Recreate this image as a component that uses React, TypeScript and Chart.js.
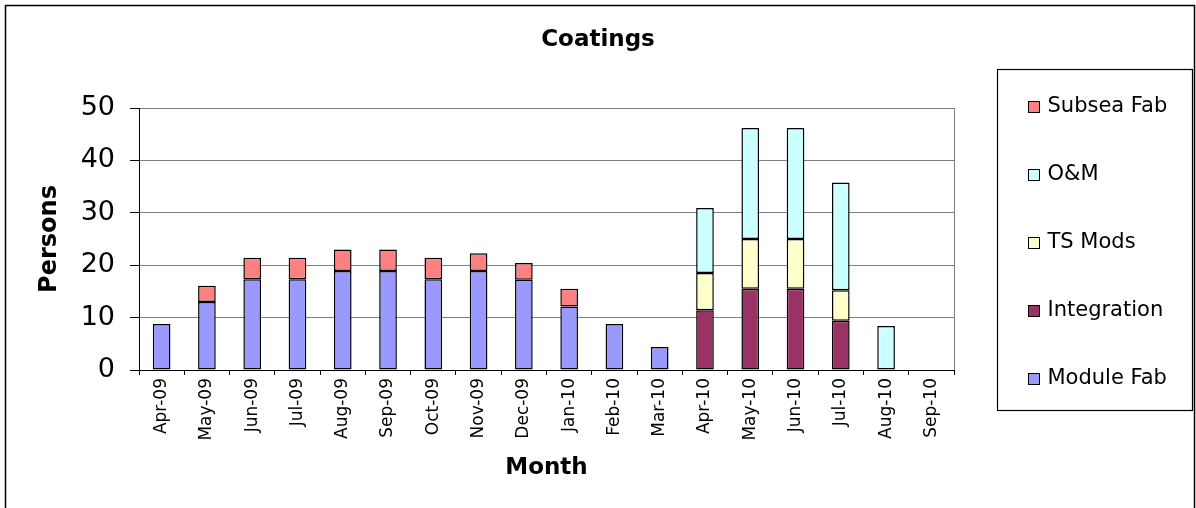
import { useEffect, useRef } from 'react';
import { Chart, registerables, layouts } from 'chart.js';

Chart.register(...registerables);

// Monthly head-count for the coatings crew, stacked by work package
const months = [
  'Apr-09', 'May-09', 'Jun-09', 'Jul-09', 'Aug-09', 'Sep-09',
  'Oct-09', 'Nov-09', 'Dec-09', 'Jan-10', 'Feb-10', 'Mar-10',
  'Apr-10', 'May-10', 'Jun-10', 'Jul-10', 'Aug-10', 'Sep-10',
];

const moduleFab = [8.8, 13, 17.3, 17.3, 18.9, 18.9, 17.3, 18.9, 17.2, 12.1, 8.8, 4.4, null, null, null, null, null, null];
const integration = [null, null, null, null, null, null, null, null, null, null, null, null, 11.4, 15.5, 15.5, 9.4, null, null];
const tsMods = [null, null, null, null, null, null, null, null, null, null, null, null, 7.1, 9.5, 9.5, 5.8, null, null];
const oAndM = [null, null, null, null, null, null, null, null, null, null, null, null, 12.4, 21.2, 21.2, 20.6, 8.4, null];
const subseaFab = [null, 3.1, 4.1, 4.1, 4.1, 4.1, 4.1, 3.4, 3.2, 3.4, null, null, null, null, null, null, null, null];

const seriesNames = ['Module Fab', 'Integration', 'TS Mods', 'O&M', 'Subsea Fab'];
const seriesValues = [moduleFab, integration, tsMods, oAndM, subseaFab];
const seriesColors = ['#9999FF', '#993366', '#FFFFCC', '#CCFFFF', '#FF8080'];

const yTicks = [0, 10, 20, 30, 40, 50];

const FONT = "'DejaVu Sans', sans-serif";

// Boxed legend on the right, reserved as its own layout box
const sideLegend = {
  id: 'sideLegend',
  start(chart: any) {
    const box: any = {
      position: 'right',
      weight: 1000,
      fullSize: false,
      options: {},
      left: 0, top: 0, right: 0, bottom: 0, width: 0, height: 0,
      isHorizontal() { return false; },
      getPadding() { return { top: 0, left: 0, right: 0, bottom: 0 }; },
      update(_maxWidth: number, maxHeight: number) {
        box.width = 242;
        box.height = maxHeight;
      },
      draw() {
        const ctx = chart.ctx;
        const area = chart.chartArea;
        const cy = (area.top + area.bottom) / 2;
        const x0 = Math.round(box.left + 43) + 0.5;
        const y0 = Math.round(cy - 170) + 0.5;
        ctx.save();
        ctx.strokeStyle = '#000';
        ctx.lineWidth = 1.2;
        ctx.strokeRect(x0, y0, 195, 341);
        const items = chart.data.datasets.map((d: any) => d).reverse();
        const n = items.length;
        ctx.font = `21px ${FONT}`;
        ctx.textBaseline = 'middle';
        ctx.textAlign = 'left';
        items.forEach((ds: any, i: number) => {
          const y = Math.round(cy + 4 + (i - (n - 1) / 2) * 68);
          ctx.fillStyle = ds.backgroundColor;
          ctx.fillRect(x0 + 31, y - 5.5, 11, 11);
          ctx.lineWidth = 1;
          ctx.strokeStyle = '#000';
          ctx.strokeRect(x0 + 31, y - 5.5, 11, 11);
          ctx.fillStyle = '#000';
          ctx.fillText(ds.label, x0 + 50, y);
        });
        ctx.restore();
      },
    };
    chart.$sideLegendBox = box;
    layouts.addBox(chart, box);
  },
  stop(chart: any) {
    if (chart.$sideLegendBox) layouts.removeBox(chart, chart.$sideLegendBox);
  },
};

// Plot-area frame and outer chart border
const frames = {
  id: 'frames',
  beforeDraw(chart: any) {
    const { ctx, chartArea: a } = chart;
    ctx.save();
    ctx.strokeStyle = '#808080';
    ctx.lineWidth = 1;
    ctx.strokeRect(Math.round(a.left) + 0.5, Math.round(a.top) + 0.5, Math.round(a.right - a.left), Math.round(a.bottom - a.top));
    ctx.restore();
  },
  afterDraw(chart: any) {
    const { ctx } = chart;
    ctx.save();
    ctx.strokeStyle = '#000';
    ctx.lineWidth = 1.5;
    ctx.strokeRect(5.5, 5.5, 1189, 700);
    ctx.restore();
  },
};

export default function App() {
  const canvasRef = useRef<HTMLCanvasElement | null>(null);

  useEffect(() => {
    document.body.style.margin = '0';
    const canvas = canvasRef.current;
    if (!canvas) return;

    const chart = new Chart(canvas, {
      type: 'bar',
      data: {
        labels: months,
        datasets: seriesNames.map((name, i) => ({
          label: name,
          data: seriesValues[i],
          backgroundColor: seriesColors[i],
          borderColor: '#000',
          borderWidth: 1.5,
          borderSkipped: false,
          inflateAmount: 0,
          barPercentage: 0.39,
          categoryPercentage: 1.0,
        })),
      },
      options: {
        animation: false,
        responsive: true,
        maintainAspectRatio: false,
        events: [],
        layout: { padding: 0 },
        plugins: {
          legend: { display: false },
          tooltip: { enabled: false },
          title: {
            display: true,
            text: 'Coatings',
            color: '#000',
            font: { family: FONT, size: 23, weight: 'bold' },
            padding: { top: 26, bottom: 54.4 },
          },
        },
        scales: {
          x: {
            stacked: true,
            afterFit(scale: any) { scale.height = 138; },
            grid: {
              display: true,
              drawOnChartArea: false,
              drawTicks: true,
              tickLength: 5,
              tickColor: '#000',
              offset: true,
            },
            border: { display: true, color: '#000', width: 1 },
            ticks: {
              color: '#000',
              font: { family: FONT, size: 17 },
              minRotation: 90,
              maxRotation: 90,
              autoSkip: false,
              padding: 3,
            },
            title: {
              display: true,
              text: 'Month',
              color: '#000',
              font: { family: FONT, size: 23, weight: 'bold' },
              padding: { top: 0, bottom: 26 },
            },
          },
          y: {
            stacked: true,
            min: 0,
            max: 50,
            afterFit(scale: any) { scale.width = 139; },
            afterBuildTicks(scale: any) {
              scale.ticks = yTicks.map((v) => ({ value: v }));
            },
            grid: {
              color: '#808080',
              tickColor: '#000',
              tickLength: 9,
              drawTicks: true,
            },
            border: { display: true, color: '#000', width: 1 },
            ticks: {
              color: '#000',
              font: { family: FONT, size: 27 },
              padding: 15,
            },
            title: {
              display: true,
              text: 'Persons',
              color: '#000',
              font: { family: FONT, size: 24, weight: 'bold' },
              padding: { top: 35, bottom: 0 },
            },
          },
        },
      },
      plugins: [sideLegend, frames],
    } as any);

    return () => chart.destroy();
  }, []);

  return (
    <div style={{ width: 1196, height: 508, position: 'relative' }}>
      <canvas ref={canvasRef} />
    </div>
  );
}
